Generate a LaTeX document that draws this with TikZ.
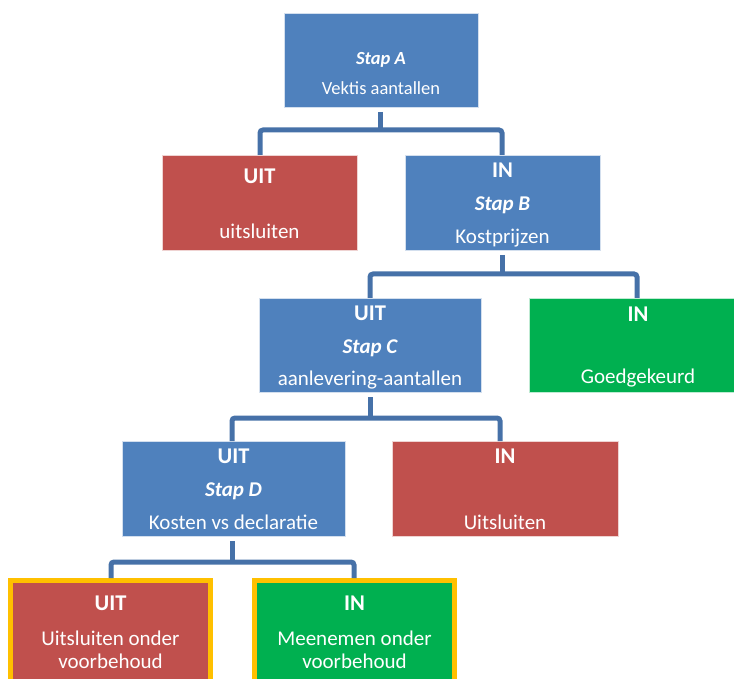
\documentclass[tikz,border=0pt]{standalone}
\usepackage{fontspec}
\setmainfont{Carlito}
\definecolor{boxblue}{HTML}{4F81BD}
\definecolor{boxred}{HTML}{C0504D}
\definecolor{boxgreen}{HTML}{00B050}
\definecolor{edgeorange}{HTML}{FFC000}
\definecolor{linkblue}{HTML}{4671A8}
\tikzset{
  box/.style={draw=white!75!#1, line width=0.8pt, fill=#1},
  warnbox/.style={draw=edgeorange, line width=5pt, fill=#1},
  hd/.style={text=white, font=\fontsize{22.5}{26}\selectfont\bfseries, anchor=center, inner sep=0pt},
  stp/.style={text=white, font=\fontsize{21}{24}\selectfont\bfseries\itshape, anchor=center, inner sep=0pt},
  stps/.style={text=white, font=\fontsize{18.5}{22}\selectfont\bfseries\itshape, anchor=center, inner sep=0pt},
  bd/.style={text=white, font=\fontsize{21}{24}\selectfont, anchor=center, inner sep=0pt},
  bds/.style={text=white, font=\fontsize{18.5}{22}\selectfont, anchor=center, inner sep=0pt},
  link/.style={draw=linkblue, line width=5pt, rounded corners=3pt},
}
\begin{document}
\begin{tikzpicture}[x=1pt,y=-1pt]
\useasboundingbox (0,0) rectangle (734,679);
\begin{scope}
\clip (0,0) rectangle (734,679);
% boxes
\draw[box=boxblue] (284,13) rectangle (478,107);
\draw[box=boxred] (162,155) rectangle (357,250);
\draw[box=boxblue] (405,155) rectangle (600,250);
\draw[box=boxblue] (259,298) rectangle (481,392);
\draw[box=boxgreen] (529,298) rectangle (745,392);
\draw[box=boxblue] (122,441) rectangle (345,536);
\draw[box=boxred] (392,441) rectangle (618,536);
\draw[warnbox=boxred] (10.5,580.5) rectangle (210.5,700);
\draw[warnbox=boxgreen] (254.5,580.5) rectangle (454.5,700);
\end{scope}
% anchor coordinates for connectors
\coordinate (As) at (380,112);
\coordinate (Ab) at (380,130);
\coordinate (U1n) at (260,155);
\coordinate (Bn) at (502,155);
\coordinate (Bs) at (502,255);
\coordinate (Bb) at (502,274);
\coordinate (Cn) at (370,298);
\coordinate (Gn) at (637,298);
\coordinate (Cs) at (370,397);
\coordinate (Cb) at (370,418);
\coordinate (Dn) at (232,441);
\coordinate (Rn) at (500,441);
\coordinate (Ds) at (232,541);
\coordinate (Db) at (232,562);
\coordinate (En) at (111,578);
\coordinate (Fn) at (354,578);
% connectors
\draw[link] (U1n) |- (Ab) -| (Bn);
\draw[link] (As) -- (Ab);
\draw[link] (Cn) |- (Bb) -| (Gn);
\draw[link] (Bs) -- (Bb);
\draw[link] (Dn) |- (Cb) -| (Rn);
\draw[link] (Cs) -- (Cb);
\draw[link] (En) |- (Db) -| (Fn);
\draw[link] (Ds) -- (Db);
% texts
\node[stps] (tA1) at (381,60) {Stap A};
\node[bds] (tA2) at (381,88) {Vektis aantallen};
\node[hd] (tU1) at (259.5,176) {UIT};
\node[bd] (tU2) at (259.5,231) {uitsluiten};
\node[hd] (tB1) at (502.5,170) {IN};
\node[stp] (tB2) at (502.5,205) {Stap B};
\node[bd] (tB3) at (502.5,238) {Kostprijzen};
\node[hd] (tC1) at (370,313) {UIT};
\node[stp] (tC2) at (370,348) {Stap C};
\node[bd] (tC3) at (370,380) {aanlevering-aantallen};
\node[hd] (tG1) at (638,314) {IN};
\node[bd] (tG2) at (638,378) {Goedgekeurd};
\node[hd] (tD1) at (233.5,456) {UIT};
\node[stp] (tD2) at (233.5,491) {Stap D};
\node[bd] (tD3) at (233.5,522) {Kosten vs declaratie};
\node[hd] (tR1) at (505,456) {IN};
\node[bd] (tR2) at (505,522) {Uitsluiten};
\node[hd] (tE1) at (110.5,603) {UIT};
\node[bd] (tE2) at (110.5,638) {Uitsluiten onder};
\node[bd] (tE3) at (110.5,661) {voorbehoud};
\node[hd] (tF1) at (354.5,603) {IN};
\node[bd] (tF2) at (354.5,638) {Meenemen onder};
\node[bd] (tF3) at (354.5,661) {voorbehoud};
\end{tikzpicture}
\end{document}
